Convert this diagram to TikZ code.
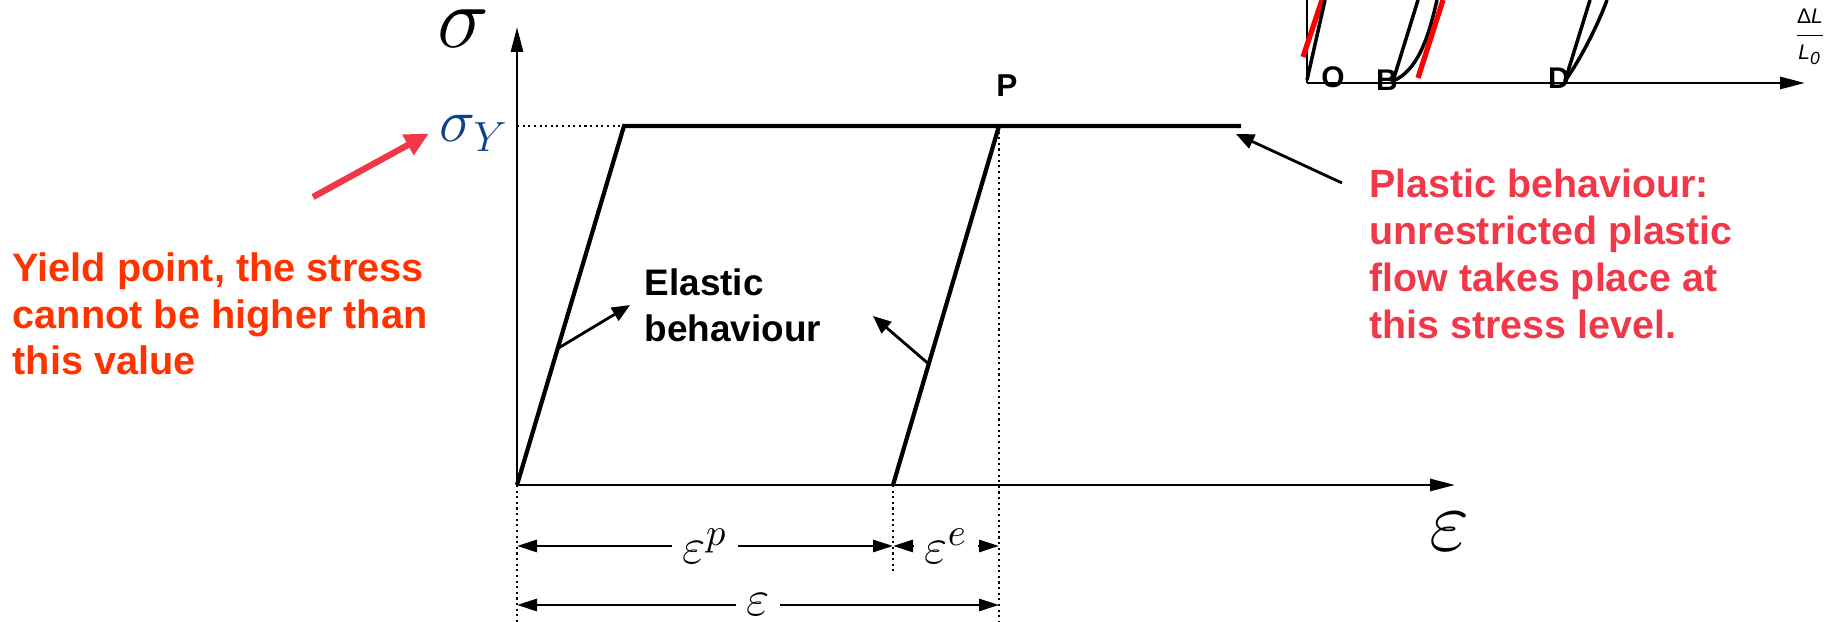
\documentclass[tikz,border=0pt]{standalone}
\usepackage{fontspec}
\usepackage{amsmath}
\setmainfont{Liberation Sans}
\usetikzlibrary{arrows.meta, calc}
\definecolor{yieldorange}{HTML}{FF3300}
\definecolor{plasticred}{RGB}{240,56,72}
\definecolor{sigmablue}{RGB}{12,66,140}
\definecolor{insetred}{HTML}{FF0000}

\begin{document}
\begin{tikzpicture}[
    axis/.style={thick, -{Triangle[length=2.5mm, width=1.2mm]}},
    curve/.style={line width=1.2pt},
    guide/.style={densely dotted, line width=0.6pt},
    dimline/.style={thick, arrows={Triangle[length=2mm, width=1.2mm]-Triangle[length=2mm, width=1.2mm]}},
    dimlabel/.style={fill=white, inner xsep=3pt, inner ysep=1pt, font=\fontsize{15}{17}\selectfont},
    pointer/.style={line width=0.8pt, -{Triangle[length=1.8mm, width=1.5mm]}},
    note/.style={anchor=north west, inner sep=0pt, align=left},
    loopline/.style={line width=1pt},
    redline/.style={line width=1.5pt, insetred},
    insetlbl/.style={font=\bfseries\fontsize{8.5}{9}\selectfont, inner sep=0pt}]
  \useasboundingbox (0,0) rectangle (18.36,6.22);

  % main curve
  \coordinate (O) at (5.17,1.37);
  \coordinate (ytop) at (5.17,5.95);
  \coordinate (xend) at (14.55,1.37);
  \coordinate (A) at (6.24,4.96);
  \coordinate (P) at (9.99,4.96);
  \coordinate (plend) at (12.41,4.96);
  \coordinate (B) at (8.93,1.37);
  \coordinate (bottom) at (0,0);
  \coordinate (prow) at (0,0.76);
  \coordinate (erow) at (0,0.17);
  \coordinate (bstop) at (0,0.48);

  \draw[axis] (O) -- (ytop);
  \draw[axis] (O) -- (xend);
  \draw[curve] (O) -- (A) -- (plend);
  \draw[curve] (B) -- (P);
  \draw[guide] (O |- A) -- (A);
  \draw[guide] (O) -- (O |- bottom);
  \draw[guide] (B) -- (B |- bstop);
  \draw[guide] (P) -- (P |- bottom);

  \node[inner sep=0pt, font=\fontsize{24}{24}\selectfont] (sig) at (4.63,5.93) {$\sigma$};
  \node[anchor=base west, inner sep=0pt, text=sigmablue, font=\fontsize{17}{17}\selectfont] (sigY) at (4.39,4.80) {$\sigma_Y$};
  \node[font=\fontsize{25}{25}\selectfont] (eps) at (14.50,0.90) {$\varepsilon$};
  \node[font=\bfseries\fontsize{9}{10}\selectfont] (Plbl) at (10.07,5.36) {P};

  % strain parts
  \draw[dimline] (O |- prow) -- node[dimlabel] {$\varepsilon^p$} (B |- prow);
  \draw[dimline] (B |- prow) -- node[dimlabel] {$\varepsilon^e$} (P |- prow);
  \draw[dimline] (O |- erow) -- node[dimlabel] {$\varepsilon$} (P |- erow);

  % notes
  \node[note, text=yieldorange, font=\bfseries\fontsize{11.3}{13.3}\selectfont] (yield) at (0.12,3.70) {Yield point, the stress\\cannot be higher than\\this value};
  \node[note, font=\bfseries\fontsize{10.5}{13}\selectfont] (elastic) at (6.44,3.54) {Elastic\\behaviour};
  \node[note, text=plasticred, font=\bfseries\fontsize{11.2}{13.4}\selectfont] (plastic) at (13.69,4.54) {Plastic behaviour:\\unrestricted plastic\\flow takes place at\\this stress level.};

  \coordinate (yieldtail) at (3.13,4.25);
  \draw[line width=1.8pt, plasticred, -{Triangle[length=2.4mm, width=2.2mm]}] (yieldtail) -- ([xshift=-1mm]sigY.west);
  \path (O) -- (A) coordinate[pos=0.38] (eltail1);
  \path (B) -- (P) coordinate[pos=0.337] (eltail2);
  \coordinate (eltip2) at (8.73,3.06);
  \draw[pointer] (eltail1) -- ($(elastic.west)+(-0.14,0)$);
  \draw[pointer] (eltail2) -- (eltip2);
  \coordinate (pltail) at (13.42,4.39);
  \coordinate (pltip) at (12.36,4.88);
  \draw[pointer] (pltail) -- (pltip);

  % inset (cut at the top edge)
  \coordinate (iO) at (13.07,5.39);
  \coordinate (itop) at (13.07,6.22);
  \coordinate (iend) at (18.05,5.39);
  \draw[thick] (iO) -- (itop);
  \draw[axis] (iO) -- (iend);
  \draw[redline] (13.03,5.65) -- (13.22,6.22);
  \draw[loopline] (13.07,5.42) -- (13.25,6.22);
  \coordinate (iB) at (13.93,5.41);
  \draw[loopline] (iB) -- (14.18,6.22);
  \draw[loopline] (iB) .. controls (14.20,5.52) and (14.30,5.92) .. (14.37,6.22);
  \draw[redline] (14.18,5.44) -- (14.43,6.22);
  \coordinate (iD) at (15.65,5.41);
  \draw[loopline] (iD) -- (15.90,6.22);
  \draw[loopline] (iD) .. controls (15.80,5.62) and (15.98,5.97) .. (16.07,6.22);
  \node[insetlbl] (lblO) at (13.33,5.45) {O};
  \node[insetlbl] (lblB) at (13.87,5.42) {B};
  \node[insetlbl] (lblD) at (15.59,5.44) {D};
  \node[font=\fontsize{6}{7}\selectfont] (ratio) at (18.10,5.85) {$\dfrac{\text{Δ\textit{L}}}{\text{\textit{L}}_{\text{\textit{0}}}}$};
\end{tikzpicture}
\end{document}
